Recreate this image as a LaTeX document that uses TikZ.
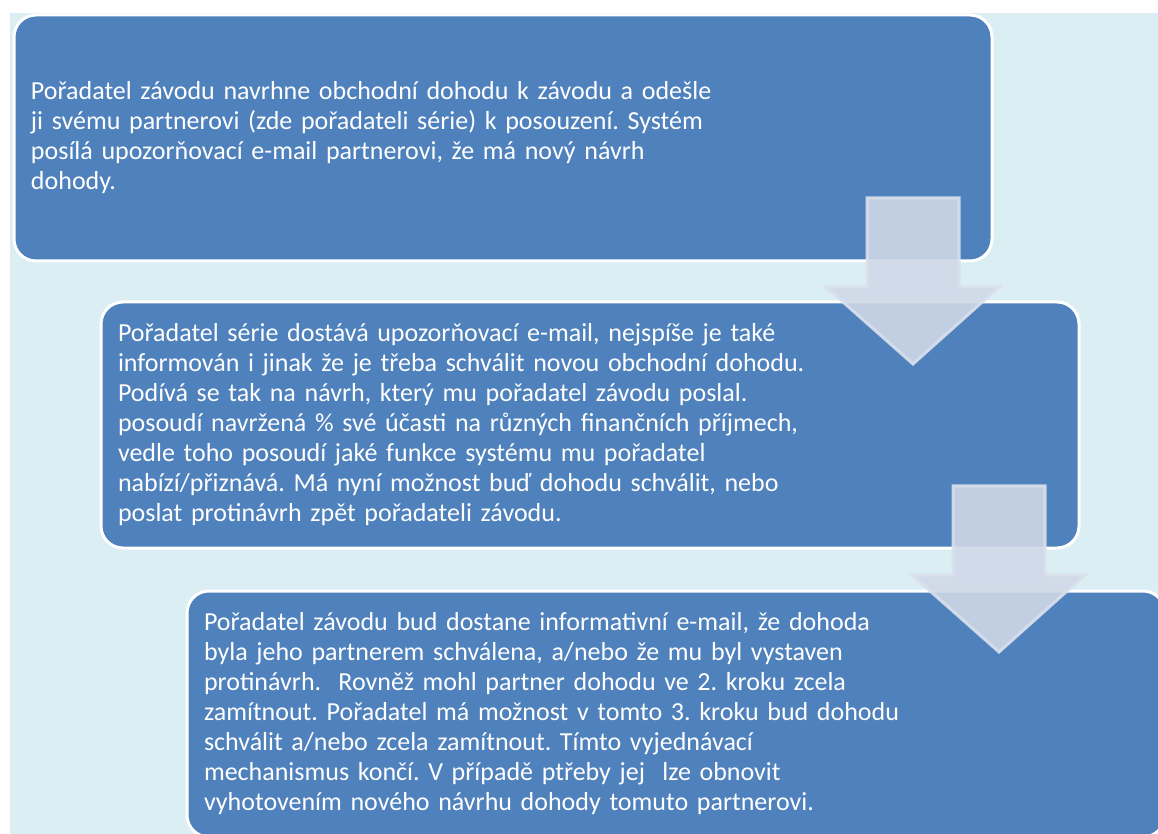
\documentclass[tikz,border=0pt]{standalone}
\usepackage{fontspec}
\setmainfont{Carlito}
\frenchspacing
\definecolor{boxblue}{RGB}{79,129,189}
\definecolor{paleblue}{RGB}{219,238,243}
\definecolor{arrowfill}{RGB}{207,216,231}
\definecolor{arrowline}{RGB}{218,224,236}
% block arrow hanging from a named top point
\newcommand\flowdown[1]{%
  \draw[flowarrow] (#1) ++(-46,0) -- ++(92,0) -- ++(0,89) -- ++(40,0)
    -- ++(-86,77) -- ++(-87,-77) -- ++(41,0) -- cycle;}
\begin{document}
\begin{tikzpicture}[
    x=0.5pt, y=-0.5pt,
    stepbox/.style={rectangle, rounded corners=11pt, fill=boxblue, draw=white,
      line width=1.5pt, minimum width=489pt, minimum height=123pt,
      text width=472pt, inner xsep=8.5pt, align=left, text=white,
      font=\fontsize{13}{15}\selectfont\frenchspacing},
    flowarrow/.style={fill=arrowfill, fill opacity=0.9, draw=arrowline,
      draw opacity=0.9, line width=1.5pt}
  ]
  \useasboundingbox (0,0) rectangle (1158,834);
  \clip (0,0) rectangle (1158,834);
  \fill[paleblue] (10,13) rectangle (1158,834);
  \node[stepbox] (box1) at (503,138) {%
    Pořadatel závodu navrhne obchodní dohodu k závodu a odešle\\
    ji svému partnerovi (zde pořadateli série) k posouzení. Systém\\
    posílá upozorňovací e-mail partnerovi, že má nový návrh\\
    dohody.};
  \node[stepbox] (box2) at (590,425) {%
    Pořadatel série dostává upozorňovací e-mail, nejspíše je také\\
    informován i jinak že je třeba schválit novou obchodní dohodu.\\
    Podívá se tak na návrh, který mu pořadatel závodu poslal.\\
    posoudí navržená \% své účasti na různých finančních příjmech,\\
    vedle toho posoudí jaké funkce systému mu pořadatel\\
    nabízí/přiznává. Má nyní možnost buď dohodu schválit, nebo\\
    poslat protinávrh zpět pořadateli závodu.};
  \node[stepbox] (box3) at (676,714) {%
    Pořadatel závodu bud dostane informativní e-mail, že dohoda\\
    byla jeho partnerem schválena, a/nebo že mu byl vystaven\\
    protinávrh.~ Rovněž mohl partner dohodu ve 2. kroku zcela\\
    zamítnout. Pořadatel má možnost v tomto 3. kroku bud dohodu\\
    schválit a/nebo zcela zamítnout. Tímto vyjednávací\\
    mechanismus končí. V případě ptřeby jej~ lze obnovit\\
    vyhotovením nového návrhu dohody tomuto partnerovi.};
  \coordinate (arr1) at (913,198);
  \coordinate (arr2) at (999,486);
  \flowdown{arr1}
  \flowdown{arr2}
\end{tikzpicture}
\end{document}
